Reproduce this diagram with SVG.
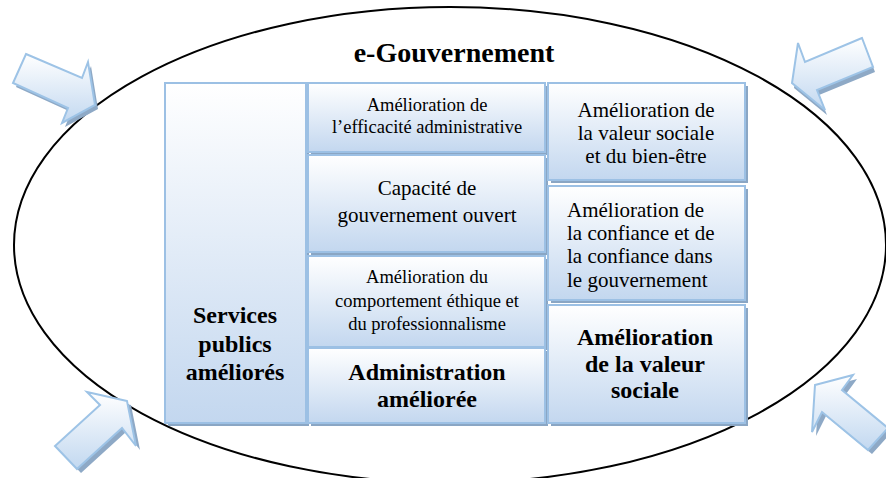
<svg xmlns="http://www.w3.org/2000/svg" width="886" height="478" viewBox="0 0 886 478">
<style>
.box{stroke:#9cc0e4;stroke-width:2;fill:url(#g)}
.sh{fill:#8aa6c4}
.ar{stroke:#9dc3e6;stroke-width:2;fill:url(#ga);stroke-linejoin:miter}
.ash{fill:#8ea9c6}
.s{font-size:18.5px}
.m{font-size:21px}
.b{font-size:24px;font-weight:bold}
.t{font-size:28px;font-weight:bold}
</style>
<defs>
<linearGradient id="g" x1="0" y1="0" x2="0" y2="1">
<stop offset="0" stop-color="#ffffff"/>
<stop offset="1" stop-color="#c3d7ef"/>
</linearGradient>
<linearGradient id="ga" x1="0" y1="0" x2="0" y2="1">
<stop offset="0" stop-color="#ffffff"/>
<stop offset="1" stop-color="#c2d8f0"/>
</linearGradient>
</defs>
<rect width="886" height="478" fill="#ffffff"/>
<ellipse cx="450" cy="245" rx="436" ry="238" fill="none" stroke="#000" stroke-width="2"/>
<g id="arrows">
<g id="arrow-tl">
<polygon class="ash" transform="translate(3,4)" points="26,54 82,78 88,62 95,105 62,123 68,108 13,83"/>
<polygon class="ar" points="26,54 82,78 88,62 95,105 62,123 68,108 13,83"/>
</g>
<g id="arrow-tr">
<polygon class="ash" transform="translate(2,5)" points="862,38 805,62 798,43 792,83 825,110 817,90 873,67"/>
<polygon class="ar" points="862,38 805,62 798,43 792,83 825,110 817,90 873,67"/>
</g>
<g id="arrow-bl">
<polygon class="ash" transform="translate(4,4)" points="127,401 87,392 100,405 55,446 77,469 122,428 136,446"/>
<polygon class="ar" points="127,401 87,392 100,405 55,446 77,469 122,428 136,446"/>
</g>
<g id="arrow-br">
<polygon class="ash" transform="translate(4,4)" points="815,385 853,375 842,390 888,428 868,450 822,412 812,432"/>
<polygon class="ar" points="815,385 853,375 842,390 888,428 868,450 822,412 812,432"/>
</g>
</g>
<g font-family="'Liberation Serif', 'Times New Roman', 'DejaVu Serif', serif" text-anchor="middle" fill="#000">
<g id="title"><text class="t" x="454" y="62">e-Gouvernement</text></g>
<g id="services">
<rect class="sh" x="168" y="86" width="141" height="340"/>
<rect class="box" x="165" y="83" width="141" height="340"/>
<text class="b" x="235" y="323">Services</text>
<text class="b" x="235" y="352">publics</text>
<text class="b" x="235" y="380">améliorés</text>
</g>
<g id="efficacite">
<rect class="sh" x="311" y="86" width="237" height="69"/>
<rect class="box" x="308" y="83" width="237" height="69"/>
<text class="s" x="427" y="111">Amélioration de</text>
<text class="s" x="427" y="133">l’efficacité administrative</text>
</g>
<g id="capacite">
<rect class="sh" x="311" y="158" width="237" height="97"/>
<rect class="box" x="308" y="155" width="237" height="97"/>
<text class="m" x="427" y="195">Capacité de</text>
<text class="m" x="427" y="222">gouvernement ouvert</text>
</g>
<g id="ethique">
<rect class="sh" x="311" y="259" width="237" height="91"/>
<rect class="box" x="308" y="256" width="237" height="91"/>
<text class="s" x="427" y="283">Amélioration du</text>
<text class="s" x="427" y="307">comportement éthique et</text>
<text class="s" x="427" y="330">du professionnalisme</text>
</g>
<g id="administration">
<rect class="sh" x="311" y="351" width="237" height="75"/>
<rect class="box" x="308" y="348" width="237" height="75"/>
<text class="b" x="427" y="380">Administration</text>
<text class="b" x="427" y="407">améliorée</text>
</g>
<g id="bien-etre">
<rect class="sh" x="551" y="86" width="197" height="97"/>
<rect class="box" x="548" y="83" width="197" height="97"/>
<text class="m" x="646" y="117">Amélioration de</text>
<text class="m" x="646" y="140">la valeur sociale</text>
<text class="m" x="646" y="163">et du bien-être</text>
</g>
<g id="confiance">
<rect class="sh" x="551" y="189" width="197" height="114"/>
<rect class="box" x="548" y="186" width="197" height="114"/>
<text class="m" x="567" y="217" text-anchor="start">Amélioration de</text>
<text class="m" x="567" y="240" text-anchor="start">la confiance et de</text>
<text class="m" x="567" y="263" text-anchor="start">la confiance dans</text>
<text class="m" x="567" y="287" text-anchor="start">le gouvernement</text>
</g>
<g id="valeur-sociale">
<rect class="sh" x="551" y="308" width="197" height="118"/>
<rect class="box" x="548" y="305" width="197" height="118"/>
<text class="b" x="645" y="345">Amélioration</text>
<text class="b" x="645" y="372">de la valeur</text>
<text class="b" x="645" y="398">sociale</text>
</g>
</g>
</svg>
